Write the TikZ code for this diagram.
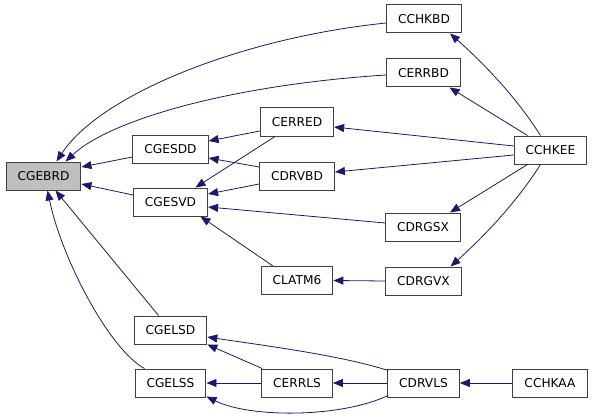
\documentclass[tikz,border=0pt]{standalone}
\usepackage{fontspec}
\newfontfamily\dvfont{DejaVu Sans}
\usetikzlibrary{arrows.meta,calc}
\definecolor{edgeblue}{HTML}{191970}
\definecolor{boxline}{HTML}{404040}
\begin{document}
\begin{tikzpicture}[x=1pt,y=-1pt,
  box/.style={draw=boxline,line width=1pt,fill=white,minimum height=28pt,inner xsep=11.5pt,inner ysep=0pt,font=\dvfont\fontsize{12.2}{14}\selectfont},
  edge/.style={draw=edgeblue,line width=0.8pt,{Triangle[length=10pt,width=8pt]}-}]
\useasboundingbox (0,0) rectangle (595,420);
\node[box,fill=black!25] (CGEBRD) at (43.5,176) {CGEBRD};
\node[box] (CGESDD) at (170.5,149) {CGESDD};
\node[box] (CGESVD) at (170.5,202) {CGESVD};
\node[box] (CERRED) at (297,122) {CERRED};
\node[box] (CDRVBD) at (297,176) {CDRVBD};
\node[box] (CCHKBD) at (424,19) {CCHKBD};
\node[box] (CERRBD) at (423.5,73) {CERRBD};
\node[box] (CCHKEE) at (550.5,150) {CCHKEE};
\node[box] (CDRGSX) at (423,227) {CDRGSX};
\node[box] (CDRGVX) at (423.5,281) {CDRGVX};
\node[box] (CLATM6) at (297,280.5) {CLATM6};
\node[box] (CGELSD) at (170.5,330) {CGELSD};
\node[box] (CGELSS) at (170.5,383) {CGELSS};
\node[box] (CERRLS) at (297,383) {CERRLS};
\node[box] (CDRVLS) at (423.5,383) {CDRVLS};
\node[box] (CCHKAA) at (550,383) {CCHKAA};
% edges into CGEBRD
\draw[edge] ($(CGEBRD.north)+(13,0)$) .. controls (100,95) and (240,38) .. ($(CCHKBD.west)+(0,4)$);
\draw[edge] ($(CGEBRD.north)+(22,0)$) .. controls (110,120) and (230,85) .. ($(CERRBD.west)+(0,2)$);
\draw[edge] ($(CGEBRD.east)+(0,-9)$) -- ($(CGESDD.west)+(0,8)$);
\draw[edge] ($(CGEBRD.east)+(0,8)$) -- ($(CGESVD.west)+(0,-7)$);
\draw[edge] ($(CGEBRD.south)+(12,0)$) -- ($(CGELSD.north)+(-12,0)$);
\draw[edge] ($(CGEBRD.south)+(4,0)$) .. controls (62,260) and (110,350) .. ($(CGELSS.north)+(-26,0)$);
% edges into CGESDD / CGESVD
\draw[edge] ($(CGESDD.east)+(0,-8)$) -- ($(CERRED.west)+(0,9)$);
\draw[edge] ($(CGESVD.north)+(25,0)$) -- ($(CERRED.south)+(-22,0)$);
\draw[edge] ($(CGESDD.east)+(0,9)$) -- ($(CDRVBD.west)+(0,-9)$);
\draw[edge] ($(CGESVD.east)+(0,-8)$) -- ($(CDRVBD.west)+(0,8)$);
\draw[edge] ($(CGESVD.east)+(0,5)$) -- ($(CDRGSX.west)+(0,-4)$);
\draw[edge] ($(CGESVD.south)+(30,0)$) -- ($(CLATM6.north)+(-24,0)$);
% edges from CCHKEE
\draw[edge] ($(CCHKBD.south)+(26,0)$) .. controls (480,60) and (515,95) .. ($(CCHKEE.north)+(-10,0)$);
\draw[edge] ($(CERRBD.south)+(26,0)$) -- ($(CCHKEE.north)+(-23,0)$);
\draw[edge] ($(CERRED.east)+(0,5)$) -- ($(CCHKEE.west)+(0,-4)$);
\draw[edge] ($(CDRVBD.east)+(0,-4)$) -- ($(CCHKEE.west)+(0,5)$);
\draw[edge] ($(CDRGSX.north)+(27,0)$) -- ($(CCHKEE.south)+(-23,0)$);
\draw[edge] ($(CDRGVX.north)+(27,0)$) .. controls (480,240) and (515,205) .. ($(CCHKEE.south)+(-10,0)$);
\draw[edge] (CLATM6.east) -- (CDRGVX.west);
% bottom part
\draw[edge] ($(CGELSD.east)+(0,7)$) .. controls (260,345) and (340,355) .. ($(CDRVLS.north west)+(1,2)$);
\draw[edge] (CGELSD.south east) -- ($(CERRLS.north west)+(1,0)$);
\draw[edge] (CGELSS.east) -- (CERRLS.west);
\draw[edge] ($(CGELSS.south east)+(0,-1)$) .. controls (250,418) and (340,418) .. ($(CDRVLS.south west)+(1,-2)$);
\draw[edge] (CERRLS.east) -- (CDRVLS.west);
\draw[edge] (CDRVLS.east) -- (CCHKAA.west);
\end{tikzpicture}
\end{document}
